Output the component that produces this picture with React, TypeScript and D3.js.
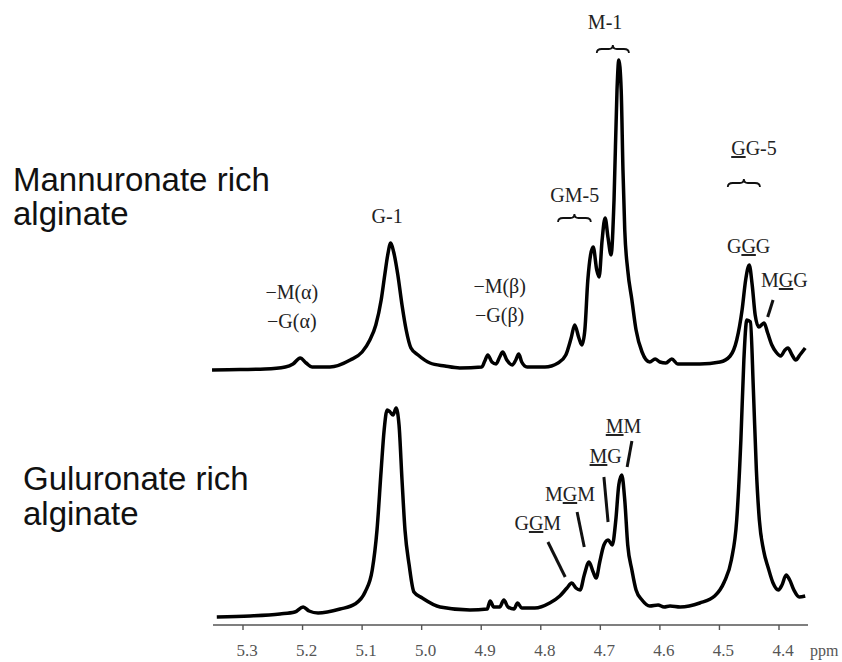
import React from 'react';
import * as d3 from 'd3';

// chemical shift (ppm) and signal height for each trace
const upperPpm = [5.352, 5.305, 5.263, 5.229, 5.216, 5.204, 5.194, 5.184, 5.154, 5.120, 5.100, 5.087, 5.077, 5.068, 5.062, 5.057, 5.052, 5.047, 5.040, 5.033, 5.026, 5.018, 5.006, 4.986, 4.961, 4.936, 4.899, 4.894, 4.889, 4.882, 4.875, 4.869, 4.864, 4.857, 4.848, 4.842, 4.837, 4.832, 4.823, 4.793, 4.771, 4.758, 4.749, 4.743, 4.736, 4.731, 4.726, 4.721, 4.712, 4.706, 4.702, 4.697, 4.692, 4.687, 4.682, 4.677, 4.672, 4.669, 4.665, 4.662, 4.659, 4.654, 4.647, 4.640, 4.630, 4.617, 4.608, 4.600, 4.590, 4.580, 4.570, 4.533, 4.499, 4.482, 4.471, 4.462, 4.456, 4.450, 4.445, 4.440, 4.434, 4.425, 4.419, 4.412, 4.405, 4.397, 4.390, 4.385, 4.378, 4.372, 4.365, 4.356];
const upperInt = [2, 2.5, 3, 5, 8, 14, 9, 5, 5, 12, 20, 32, 47, 72, 97, 117, 129, 120, 97, 67, 42, 24, 17, 9, 6, 4, 5, 11, 17, 10, 8, 15, 20, 12, 7, 12, 18, 10, 5, 5, 9, 17, 34, 47, 34, 27, 42, 92, 125, 102, 95, 132, 154, 134, 117, 172, 282, 312, 282, 202, 142, 102, 72, 42, 20, 10, 13, 10, 9, 13, 8, 8, 10, 16, 32, 62, 92, 107, 87, 57, 45, 49, 39, 27, 20, 16, 22, 24, 17, 12, 17, 24];

const lowerPpm = [5.344, 5.288, 5.238, 5.213, 5.199, 5.189, 5.174, 5.137, 5.112, 5.095, 5.083, 5.075, 5.068, 5.063, 5.058, 5.053, 5.048, 5.043, 5.038, 5.033, 5.028, 5.021, 5.013, 4.999, 4.969, 4.919, 4.890, 4.885, 4.879, 4.869, 4.862, 4.855, 4.845, 4.839, 4.832, 4.810, 4.785, 4.768, 4.756, 4.748, 4.741, 4.734, 4.727, 4.719, 4.712, 4.707, 4.701, 4.694, 4.687, 4.680, 4.674, 4.669, 4.664, 4.659, 4.654, 4.647, 4.640, 4.630, 4.617, 4.603, 4.593, 4.583, 4.566, 4.533, 4.508, 4.492, 4.480, 4.471, 4.464, 4.459, 4.454, 4.448, 4.443, 4.438, 4.433, 4.426, 4.418, 4.410, 4.401, 4.395, 4.388, 4.382, 4.375, 4.366, 4.356];
const lowerInt = [3, 4, 6, 8, 13, 9, 7, 11, 16, 28, 50, 90, 150, 190, 210, 208, 205, 212, 195, 140, 90, 55, 28, 22, 13, 10, 11, 19, 13, 13, 20, 13, 11, 17, 12, 12, 17, 24, 32, 37, 32, 30, 45, 58, 48, 42, 58, 75, 80, 75, 100, 135, 145, 120, 75, 50, 30, 20, 14, 15, 13, 14, 13, 17, 24, 38, 60, 100, 180, 260, 300, 298, 230, 150, 100, 70, 52, 37, 30, 35, 45, 40, 30, 23, 24];

const tickValues = [5.3, 5.2, 5.1, 5.0, 4.9, 4.8, 4.7, 4.6, 4.5, 4.4];
const tickLabels = ['5.3', '5.2', '5.1', '5.0', '4.9', '4.8', '4.7', '4.6', '4.5', '4.4'];

// peak labels: parts are [text, underlined]
const peakLabels = [
  { ppm: 5.218, y: 299, parts: [['\u2212M(\u03b1)', false]] },
  { ppm: 5.218, y: 328, parts: [['\u2212G(\u03b1)', false]] },
  { ppm: 5.058, y: 223, parts: [['G-1', false]] },
  { ppm: 4.869, y: 293, parts: [['\u2212M(\u03b2)', false]] },
  { ppm: 4.869, y: 322, parts: [['\u2212G(\u03b2)', false]] },
  { ppm: 4.743, y: 202, parts: [['GM-5', false]] },
  { ppm: 4.692, y: 29, parts: [['M-1', false]] },
  { ppm: 4.442, y: 155, parts: [['G', true], ['G-5', false]] },
  { ppm: 4.451, y: 253, parts: [['G', false], ['G', true], ['G', false]] },
  { ppm: 4.391, y: 287, parts: [['M', false], ['G', true], ['G', false]] },
  { ppm: 4.661, y: 433, parts: [['M', true], ['M', false]] },
  { ppm: 4.691, y: 463, parts: [['M', true], ['G', false]] },
  { ppm: 4.751, y: 501, parts: [['M', false], ['G', true], ['M', false]] },
  { ppm: 4.805, y: 530, parts: [['G', false], ['G', true], ['M', false]] },
];

// pointer lines [ppm1, y1, ppm2, y2]
const pointers = [
  [4.410, 300, 4.419, 317],
  [4.647, 441, 4.655, 467],
  [4.694, 477, 4.687, 522],
  [4.739, 512, 4.727, 547],
  [4.788, 542, 4.759, 577],
];

// braces [ppm from, ppm to, y]
const braces = [
  [4.771, 4.716, 218],
  [4.706, 4.652, 49],
  [4.486, 4.432, 183],
];

const W = 842;
const H = 662;

function bracePath(x1: number, x2: number, y: number) {
  const m = (x1 + x2) / 2;
  return `M${x1},${y + 4} Q${x1},${y} ${x1 + 5},${y} L${m - 4},${y} Q${m},${y} ${m},${y - 4} Q${m},${y} ${m + 4},${y} L${x2 - 5},${y} Q${x2},${y} ${x2},${y + 4}`;
}

export default function App() {
  const x = d3.scaleLinear().domain([5.3, 4.4]).range([243, 779]);
  const yUpper = d3.scaleLinear().domain([0, 320]).range([372, 52]);
  const yLower = d3.scaleLinear().domain([0, 320]).range([620, 300]);

  const lineU = d3.line<number>()
    .x((_, i) => x(upperPpm[i]))
    .y((d) => yUpper(d))
    .curve(d3.curveMonotoneX);
  const lineL = d3.line<number>()
    .x((_, i) => x(lowerPpm[i]))
    .y((d) => yLower(d))
    .curve(d3.curveMonotoneX);

  const serif = '"Liberation Serif", "Times New Roman", serif';
  const sans = '"Liberation Sans", Arial, sans-serif';
  const axisY = 625;

  return (
    <svg width={W} height={H} style={{ position: 'absolute', left: 0, top: 0, background: '#fff' }}>
      <text x={13} y={191} fontFamily={sans} fontSize={33} fill="#111">Mannuronate rich</text>
      <text x={13} y={225} fontFamily={sans} fontSize={33} fill="#111">alginate</text>
      <text x={23} y={490} fontFamily={sans} fontSize={33} fill="#111">Guluronate rich</text>
      <text x={23} y={525} fontFamily={sans} fontSize={33} fill="#111">alginate</text>

      <path d={lineU(upperInt) || ''} fill="none" stroke="#000" strokeWidth={3.5} strokeLinejoin="round" />
      <path d={lineL(lowerInt) || ''} fill="none" stroke="#000" strokeWidth={3.5} strokeLinejoin="round" />

      {/* axis */}
      <line x1={213} x2={808} y1={axisY} y2={axisY} stroke="#555" strokeWidth={1.4} />
      {tickValues.map((t, i) => (
        <g key={i}>
          <line x1={x(t)} x2={x(t)} y1={axisY} y2={axisY + 5} stroke="#555" strokeWidth={1.4} />
          <text x={x(t) + 4} y={656} textAnchor="middle" fontFamily={serif} fontSize={17} fill="#555">
            {tickLabels[i]}
          </text>
        </g>
      ))}
      <text x={810} y={656} fontFamily={serif} fontSize={16} fill="#555">ppm</text>

      {peakLabels.map((l, i) => (
        <text key={i} x={x(l.ppm)} y={l.y} textAnchor="middle" fontFamily={serif} fontSize={20} fill="#222">
          {l.parts.map((p, j) => (
            <tspan key={j} style={{ textDecoration: p[1] ? 'underline' : 'none' }}>{p[0] as string}</tspan>
          ))}
        </text>
      ))}

      {pointers.map((p, i) => (
        <line key={i} x1={x(p[0])} y1={p[1]} x2={x(p[2])} y2={p[3]} stroke="#111" strokeWidth={3} />
      ))}

      {braces.map((b, i) => (
        <path key={i} d={bracePath(x(b[0]), x(b[1]), b[2])} fill="none" stroke="#111" strokeWidth={1.8} />
      ))}
    </svg>
  );
}
